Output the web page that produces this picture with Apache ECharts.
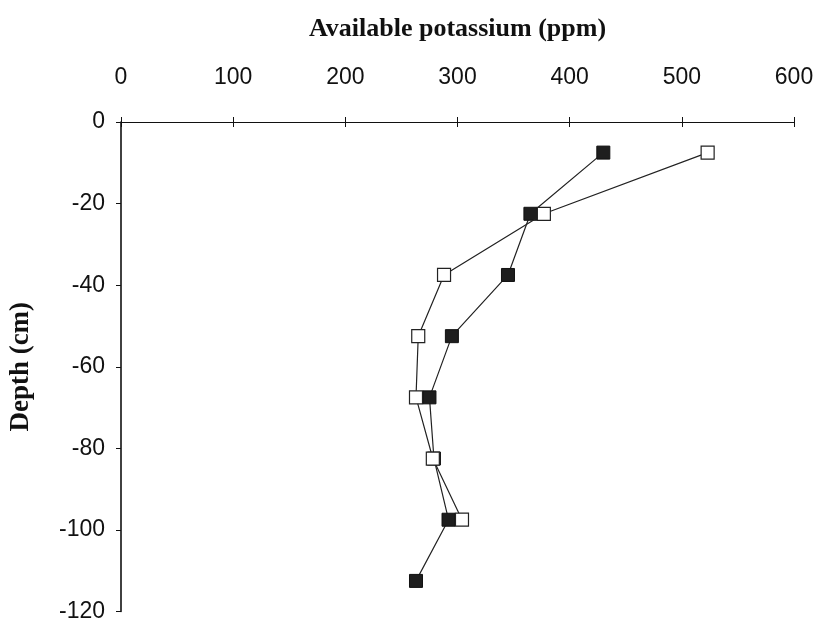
<!DOCTYPE html>
<html>
<head>
<meta charset="utf-8">
<script src="https://cdn.jsdelivr.net/npm/echarts@6/dist/echarts.min.js"></script>
<style>html,body{margin:0;padding:0;background:#fff}#c{width:820px;height:623px}</style>
</head>
<body>
<div id="c"></div>
<script>
const depths = [-7.5, -22.5, -37.5, -52.5, -67.5, -82.5, -97.5, -112.5];
const filledK = [430, 365, 345, 295, 275, 279, 292, 263];
const openK = [523, 377, 288, 265, 263, 278, 304, null];
const xTicks = [0, 100, 200, 300, 400, 500, 600];
const yTicks = [0, -20, -40, -60, -80, -100, -120];

const pairs = (xs) => xs.map((v, i) => v == null ? null : [v, depths[i]]).filter(p => p);

const chart = echarts.init(document.getElementById('c'), null, {renderer: 'canvas'});
const tickFont = () => ({fontFamily: '"Liberation Sans", Arial, sans-serif', fontSize: 23, color: '#111'});
const nameFont = () => ({fontFamily: '"Liberation Serif", "Times New Roman", serif', fontWeight: 'bold', color: '#111'});
const line = (w) => ({show: true, onZero: false, lineStyle: {color: '#111', width: w}});
chart.setOption({
  animation: false,
  backgroundColor: '#fff',
  grid: {left: 118, top: 122, right: 26, bottom: 9, containLabel: false},
  xAxis: [{
    type: 'value', position: 'top', min: 0, max: 600, interval: 100,
    name: 'Available potassium (ppm)', nameLocation: 'middle', nameGap: 80,
    nameTextStyle: Object.assign({fontSize: 26}, nameFont()),
    axisLine: line(1), splitLine: {show: false},
    axisTick: {show: true, length: 5, lineStyle: {color: '#111'}},
    axisLabel: Object.assign({margin: 33, formatter: (v) => xTicks.includes(v) ? String(v) : ''}, tickFont())
  }, {
    type: 'value', position: 'top', min: 0, max: 600, interval: 100,
    axisLine: line(1), splitLine: {show: false},
    axisTick: {show: true, inside: true, length: 5, lineStyle: {color: '#111'}},
    axisLabel: {show: false}
  }],
  yAxis: [{
    type: 'value', position: 'left', min: -120, max: 0, interval: 20,
    name: 'Depth (cm)', nameLocation: 'middle', nameGap: 86,
    nameTextStyle: Object.assign({fontSize: 27}, nameFont()),
    axisLine: line(1.6), splitLine: {show: false},
    axisTick: {show: true, length: 5, lineStyle: {color: '#111'}},
    axisLabel: Object.assign({margin: 16, formatter: (v) => yTicks.includes(v) ? String(v) : ''}, tickFont())
  }],
  series: [{
    name: 'filled', type: 'line', data: pairs(filledK),
    symbol: 'rect', symbolSize: 13,
    lineStyle: {color: '#222', width: 1.2},
    itemStyle: {color: '#1e1e1e', borderColor: '#111', borderWidth: 1},
    z: 2
  }, {
    name: 'open', type: 'line', data: pairs(openK),
    symbol: 'rect', symbolSize: 13,
    lineStyle: {color: '#222', width: 1.2},
    itemStyle: {color: '#fff', borderColor: '#222', borderWidth: 1.2},
    z: 3
  }]
});
</script>
</body>
</html>
